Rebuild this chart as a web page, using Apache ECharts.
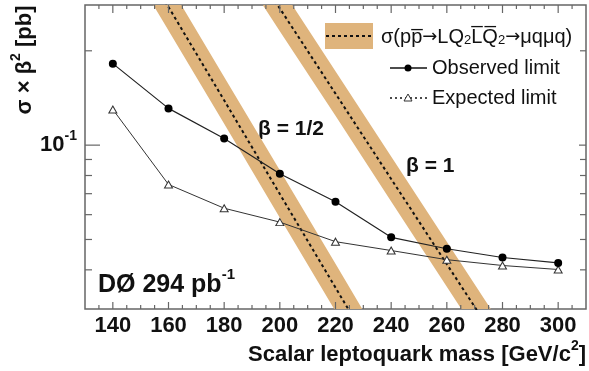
<!DOCTYPE html>
<html lang="en">
<head>
<meta charset="UTF-8">
<title>LQ2 limit</title>
<script src="https://cdn.jsdelivr.net/npm/echarts@6/dist/echarts.min.js"></script>
<style>html,body{margin:0;padding:0;background:#fff}</style>
</head>
<body>
<div id="main" style="width:589px;height:371px;"></div>
<script>
// measured limits (pb) vs. leptoquark mass (GeV)
let massPoints = [140, 160, 180, 200, 220, 240, 260, 280, 300]
let observedLimit = [0.182, 0.131, 0.105, 0.081, 0.066, 0.0508, 0.0467, 0.0438, 0.0421]
let expectedLimit = [0.130, 0.0749, 0.0629, 0.0568, 0.0492, 0.0461, 0.0431, 0.0413, 0.0401]

// theory cross section x beta^2, beta = 1/2 (centre + band edges)
let halfMass = [150, 160, 180, 200, 220, 230]
let halfCentre = [0.389, 0.276, 0.139, 0.0698, 0.0351, 0.0249]
let halfUpper = [0.463, 0.328, 0.165, 0.0831, 0.0418, 0.0296]
let halfLower = [0.327, 0.232, 0.117, 0.0587, 0.0295, 0.0209]

// beta = 1
let oneMass = [190, 200, 220, 240, 260, 280]
let oneCentre = [0.373, 0.273, 0.146, 0.078, 0.0417, 0.0223]
let oneUpper = [0.440, 0.322, 0.172, 0.092, 0.0492, 0.0263]
let oneLower = [0.316, 0.231, 0.124, 0.0661, 0.0353, 0.0189]

// axis ticks
let xMajorTicks = [140, 160, 180, 200, 220, 240, 260, 280, 300]
let xMinorTicks = [135, 145, 150, 155, 165, 170, 175, 185, 190, 195, 205, 210, 215, 225, 230, 235,
    245, 250, 255, 265, 270, 275, 285, 290, 295, 305]
let yMajorTicks = [0.1]
let yMinorTicks = [0.04, 0.05, 0.06, 0.07, 0.08, 0.09, 0.2]
</script>
<script>
var chartDom = document.getElementById('main');
var myChart = echarts.init(chartDom);
var option;

const font = 'Liberation Sans, Arial, Helvetica, sans-serif'
const bandColor = '#dfb47c'
const frameColor = '#666'

function pairs(xs, ys) {
    return xs.map((x, i) => [x, ys[i]])
}

// bold text with a raised superscript
function supRich(size, supSize, lh) {
    return {
        b: { fontSize: size, fontWeight: 'bold', fontFamily: font, fill: '#111', color: '#111', lineHeight: lh },
        s: { fontSize: supSize, fontWeight: 'bold', fontFamily: font, fill: '#111', color: '#111', verticalAlign: 'top' }
    }
}

// tan band drawn as polygon between upper and lower edge
function bandSeries(mass, upper, lower) {
    return {
        type: 'custom',
        z: 1,
        silent: true,
        data: [[mass[0], upper[0]]],
        renderItem: function (params, api) {
            let pts = []
            for (let i = 0; i < mass.length; i++) pts.push(api.coord([mass[i], upper[i]]))
            for (let i = mass.length - 1; i >= 0; i--) pts.push(api.coord([mass[i], lower[i]]))
            let cs = params.coordSys
            return {
                type: 'polygon',
                shape: { points: pts },
                style: { fill: bandColor },
                clipPath: { type: 'rect', shape: { x: cs.x, y: cs.y, width: cs.width, height: cs.height } }
            }
        }
    }
}

// inside ticks on both sides of the frame
function xTickSeries(values, lenBottom, lenTop) {
    return {
        type: 'custom',
        z: 10,
        silent: true,
        data: values.map(v => [v, 0.1]),
        renderItem: function (params, api) {
            let cs = params.coordSys
            let x = api.coord([api.value(0), 0.1])[0]
            let b = cs.y + cs.height, t = cs.y
            let st = { stroke: frameColor, lineWidth: 1.2 }
            return {
                type: 'group', children: [
                    { type: 'line', shape: { x1: x, y1: b, x2: x, y2: b - lenBottom }, style: st },
                    { type: 'line', shape: { x1: x, y1: t, x2: x, y2: t + lenTop }, style: st }
                ]
            }
        }
    }
}

function yTickSeries(values, lenLeft, lenRight) {
    return {
        type: 'custom',
        z: 10,
        silent: true,
        data: values.map(v => [200, v]),
        renderItem: function (params, api) {
            let cs = params.coordSys
            let y = api.coord([200, api.value(1)])[1]
            let l = cs.x, r = cs.x + cs.width
            let st = { stroke: frameColor, lineWidth: 1.2 }
            return {
                type: 'group', children: [
                    { type: 'line', shape: { x1: l, y1: y, x2: l + lenLeft, y2: y }, style: st },
                    { type: 'line', shape: { x1: r, y1: y, x2: r - lenRight, y2: y }, style: st }
                ]
            }
        }
    }
}

function centreLine(mass, vals) {
    return {
        type: 'line',
        z: 2,
        silent: true,
        data: pairs(mass, vals),
        showSymbol: false,
        lineStyle: { color: '#111', width: 2, type: [3, 3] }
    }
}

option = {
    animation: false,
    backgroundColor: '#fff',
    grid: {
        left: 85,
        top: 5,
        right: 3,
        bottom: 62,
        show: true,
        borderColor: frameColor,
        borderWidth: 1.5,
        backgroundColor: 'transparent'
    },
    xAxis: {
        type: 'value',
        min: 130,
        max: 310,
        interval: 10,
        axisLine: { show: false },
        axisTick: { show: false },
        splitLine: { show: false },
        axisLabel: {
            margin: 6,
            fontSize: 22,
            fontWeight: 'bold',
            fontFamily: font,
            color: '#111',
            formatter: v => (v % 20 === 0 && v >= 140 && v <= 300) ? String(v) : ''
        }
    },
    yAxis: {
        type: 'log',
        logBase: 10,
        min: 0.03,
        max: 0.28,
        axisLine: { show: false },
        axisTick: { show: false },
        splitLine: { show: false },
        axisLabel: {
            margin: 8,
            formatter: v => Math.abs(Math.log10(v) + 1) < 0.01 ? '{b|10}{s|-1}' : '',
            rich: supRich(22, 14, 32)
        }
    },
    series: [
        bandSeries(halfMass, halfUpper, halfLower),
        bandSeries(oneMass, oneUpper, oneLower),
        centreLine(halfMass, halfCentre),
        centreLine(oneMass, oneCentre),
        {
            name: 'Expected limit',
            type: 'line',
            z: 4,
            data: pairs(massPoints, expectedLimit),
            symbol: 'triangle',
            symbolSize: [8, 7],
            lineStyle: { color: '#333', width: 1 },
            itemStyle: { color: '#fff', borderColor: '#333', borderWidth: 1 }
        },
        {
            name: 'Observed limit',
            type: 'line',
            z: 5,
            data: pairs(massPoints, observedLimit),
            symbol: 'circle',
            symbolSize: 8,
            lineStyle: { color: '#222', width: 1.2 },
            itemStyle: { color: '#000' }
        },
        xTickSeries(xMajorTicks, 7, 8),
        xTickSeries(xMinorTicks, 4, 4),
        yTickSeries(yMajorTicks, 15, 7),
        yTickSeries(yMinorTicks, 7, 6)
    ],
    graphic: [
        // axis titles
        {
            type: 'text', x: 25, y: 60, rotation: Math.PI / 2,
            style: {
                text: '{b|σ × β}{s|2}{b| [pb]}', align: 'center', verticalAlign: 'middle',
                rich: supRich(22, 14, 32)
            }
        },
        {
            type: 'text', x: 586, y: 355,
            style: {
                text: '{b|Scalar leptoquark mass [GeV/c}{s|2}{b|]}', align: 'right', verticalAlign: 'middle',
                rich: supRich(22, 14, 32)
            }
        },
        // annotations
        {
            type: 'text', x: 98, y: 285,
            style: {
                text: '{b|DØ 294 pb}{s|-1}', align: 'left', verticalAlign: 'middle',
                rich: supRich(25, 15, 36)
            }
        },
        {
            type: 'text', x: 258, y: 129,
            style: { text: 'β = 1/2', font: 'bold 21px ' + font, fill: '#111', align: 'left', verticalAlign: 'middle' }
        },
        {
            type: 'text', x: 406, y: 166,
            style: { text: 'β = 1', font: 'bold 21px ' + font, fill: '#111', align: 'left', verticalAlign: 'middle' }
        },
        // legend
        { type: 'rect', shape: { x: 325, y: 23, width: 48, height: 26 }, style: { fill: bandColor } },
        { type: 'line', shape: { x1: 326, y1: 36, x2: 372, y2: 36 }, style: { stroke: '#111', lineWidth: 2, lineDash: [3, 3] } },
        {
            type: 'text', x: 381, y: 37,
            style: {
                text: '{t|σ(pp̅}{a|→}{t|LQ}{u|2}{t|L̅Q̅}{u|2}{a|→}{t|μqμq)}', align: 'left', verticalAlign: 'middle',
                rich: {
                    t: { fontSize: 20, fontFamily: font, fill: '#111' },
                    a: { fontSize: 18, fontFamily: 'DejaVu Sans', fill: '#111' },
                    u: { fontSize: 13, fontFamily: font, fill: '#111', verticalAlign: 'bottom' }
                }
            }
        },
        { type: 'line', shape: { x1: 390, y1: 68, x2: 427, y2: 68 }, style: { stroke: '#111', lineWidth: 1.5 } },
        { type: 'circle', shape: { cx: 408, cy: 68, r: 3.5 }, style: { fill: '#000' } },
        {
            type: 'text', x: 432, y: 68,
            style: { text: 'Observed limit', font: '20px ' + font, fill: '#111', align: 'left', verticalAlign: 'middle' }
        },
        { type: 'line', shape: { x1: 390, y1: 98, x2: 427, y2: 98 }, style: { stroke: '#111', lineWidth: 1.5, lineDash: [2, 3] } },
        { type: 'polygon', shape: { points: [[408, 94], [404, 101], [412, 101]] }, style: { fill: '#fff', stroke: '#333', lineWidth: 1 } },
        {
            type: 'text', x: 432, y: 98,
            style: { text: 'Expected limit', font: '20px ' + font, fill: '#111', align: 'left', verticalAlign: 'middle' }
        }
    ]
};

option && myChart.setOption(option);
</script>
</body>
</html>
